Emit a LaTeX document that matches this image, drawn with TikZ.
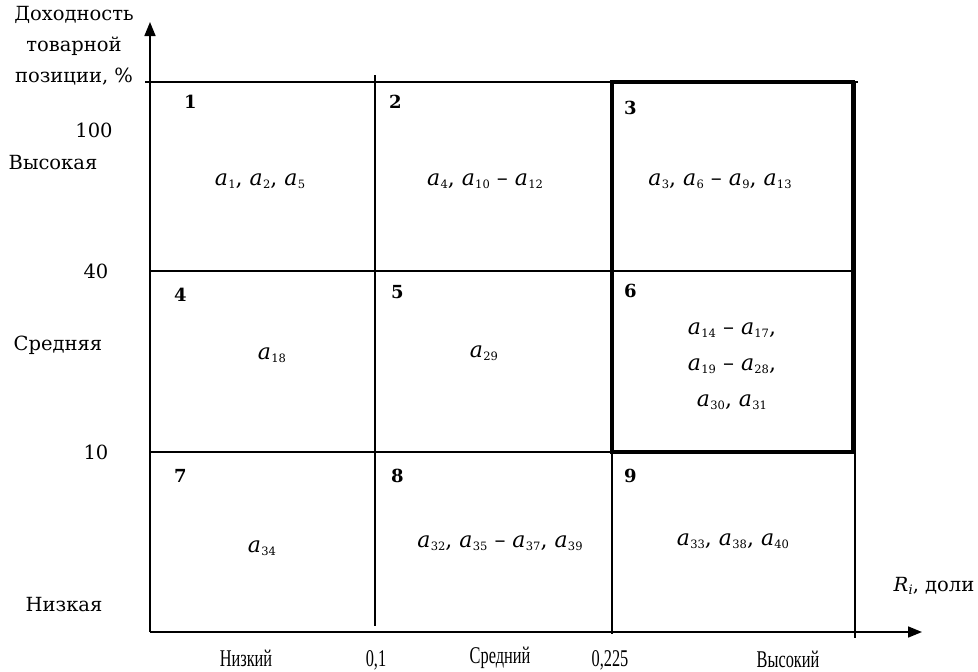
\documentclass[tikz,border=0pt]{standalone}
\usepackage{fontspec}
\setmainfont{DejaVu Serif}
\newfontfamily\narrowf[FakeStretch=0.68]{Liberation Serif}
\usetikzlibrary{arrows.meta}
\newcommand{\av}[1]{\textit{a}\kern0.3pt\raisebox{-0.3ex}{\fontsize{11.5}{11.5}\selectfont #1}}
\begin{document}
\begin{tikzpicture}[x=1pt,y=-1pt,
  txt/.style={font=\fontsize{19.5}{31}\selectfont, inner sep=0pt},
  bot/.style={font=\narrowf\fontsize{24}{26}\selectfont, inner sep=0pt},
  num/.style={font=\fontsize{18}{20}\selectfont\bfseries, inner sep=0pt, anchor=west},
  cell/.style={font=\fontsize{22}{24}\selectfont, inner sep=0pt, align=center},
  thin/.style={line width=1.3pt},
  thick/.style={line width=3.6pt},
  axis/.style={line width=1.6pt, -{Triangle[length=14pt,width=11pt]}}]
\useasboundingbox (0,0) rectangle (978,672);
% coordinates
\coordinate (o) at (150,632);
\coordinate (ytip) at (150,22);
\coordinate (xtip) at (922,632);
\coordinate (tl) at (145,82);
\coordinate (tr) at (858,82);
\coordinate (m1l) at (150,271);
\coordinate (m1r) at (855,271);
\coordinate (m2l) at (150,452);
\coordinate (m2r) at (855,452);
\coordinate (v1t) at (375,75);
\coordinate (v1b) at (375,626);
\coordinate (v2t) at (612,82);
\coordinate (v2b) at (612,634);
\coordinate (v3t) at (855,82);
\coordinate (v3b) at (855,638);
\coordinate (bx1) at (612,82);
\coordinate (bx2) at (853,452);
% axes
\draw[axis] (o) -- (ytip);
\draw[axis] (o) -- (xtip);
% grid
\draw[thin] (tl) -- (tr);
\draw[thin] (m1l) -- (m1r);
\draw[thin] (m2l) -- (m2r);
\draw[thin] (v1t) -- (v1b);
\draw[thin] (v2t) -- (v2b);
\draw[thin] (v3t) -- (v3b);
\draw[thick] (bx1) rectangle (bx2);
% cell numbers
\node[num] (n1) at (184,102) {1};
\node[num] (n2) at (389,102) {2};
\node[num] (n3) at (624,108) {3};
\node[num] (n4) at (174,295) {4};
\node[num] (n5) at (391,292) {5};
\node[num] (n6) at (624,291) {6};
\node[num] (n7) at (174,476) {7};
\node[num] (n8) at (391,476) {8};
\node[num] (n9) at (624,476) {9};
% cell contents
\node[cell] (c1) at (260,181) {\av{1}, \av{2}, \av{5}};
\node[cell] (c2) at (485,181) {\av{4}, \av{10} – \av{12}};
\node[cell] (c3) at (720,181) {\av{3}, \av{6} – \av{9}, \av{13}};
\node[cell] (c4) at (272,355) {\av{18}};
\node[cell] (c5) at (484,353) {\av{29}};
\node[cell] (c6a) at (732,330) {\av{14} – \av{17},};
\node[cell] (c6b) at (732,366) {\av{19} – \av{28},};
\node[cell] (c6c) at (732,402) {\av{30}, \av{31}};
\node[cell] (c7) at (262,548) {\av{34}};
\node[cell] (c8) at (500,543) {\av{32}, \av{35} – \av{37}, \av{39}};
\node[cell] (c9) at (733,541) {\av{33}, \av{38}, \av{40}};
% left labels
\node[txt, align=center] (ylab) at (74,46) {Доходность\\товарной\\позиции, \%};
\node[txt] (y100) at (94,130) {100};
\node[txt] (yhi) at (53,163) {Высокая};
\node[txt] (y40) at (96,271) {40};
\node[txt] (ymid) at (58,345) {Средняя};
\node[txt] (y10) at (96,452) {10};
\node[txt] (ylo) at (64,605) {Низкая};
% bottom labels
\node[bot] (xlo) at (246,658) {Низкий};
\node[bot] (x01) at (376,660) {0,1};
\node[bot] (xmid) at (500,658) {Средний};
\node[bot] (x0225) at (610,660) {0,225};
\node[bot] (xhi) at (788,659) {Высокий};
\node[txt] (xlab) at (934,586) {\textit{R\kern0.3pt\raisebox{-0.3ex}{\fontsize{13}{13}\selectfont i}}, доли};
\end{tikzpicture}
\end{document}
